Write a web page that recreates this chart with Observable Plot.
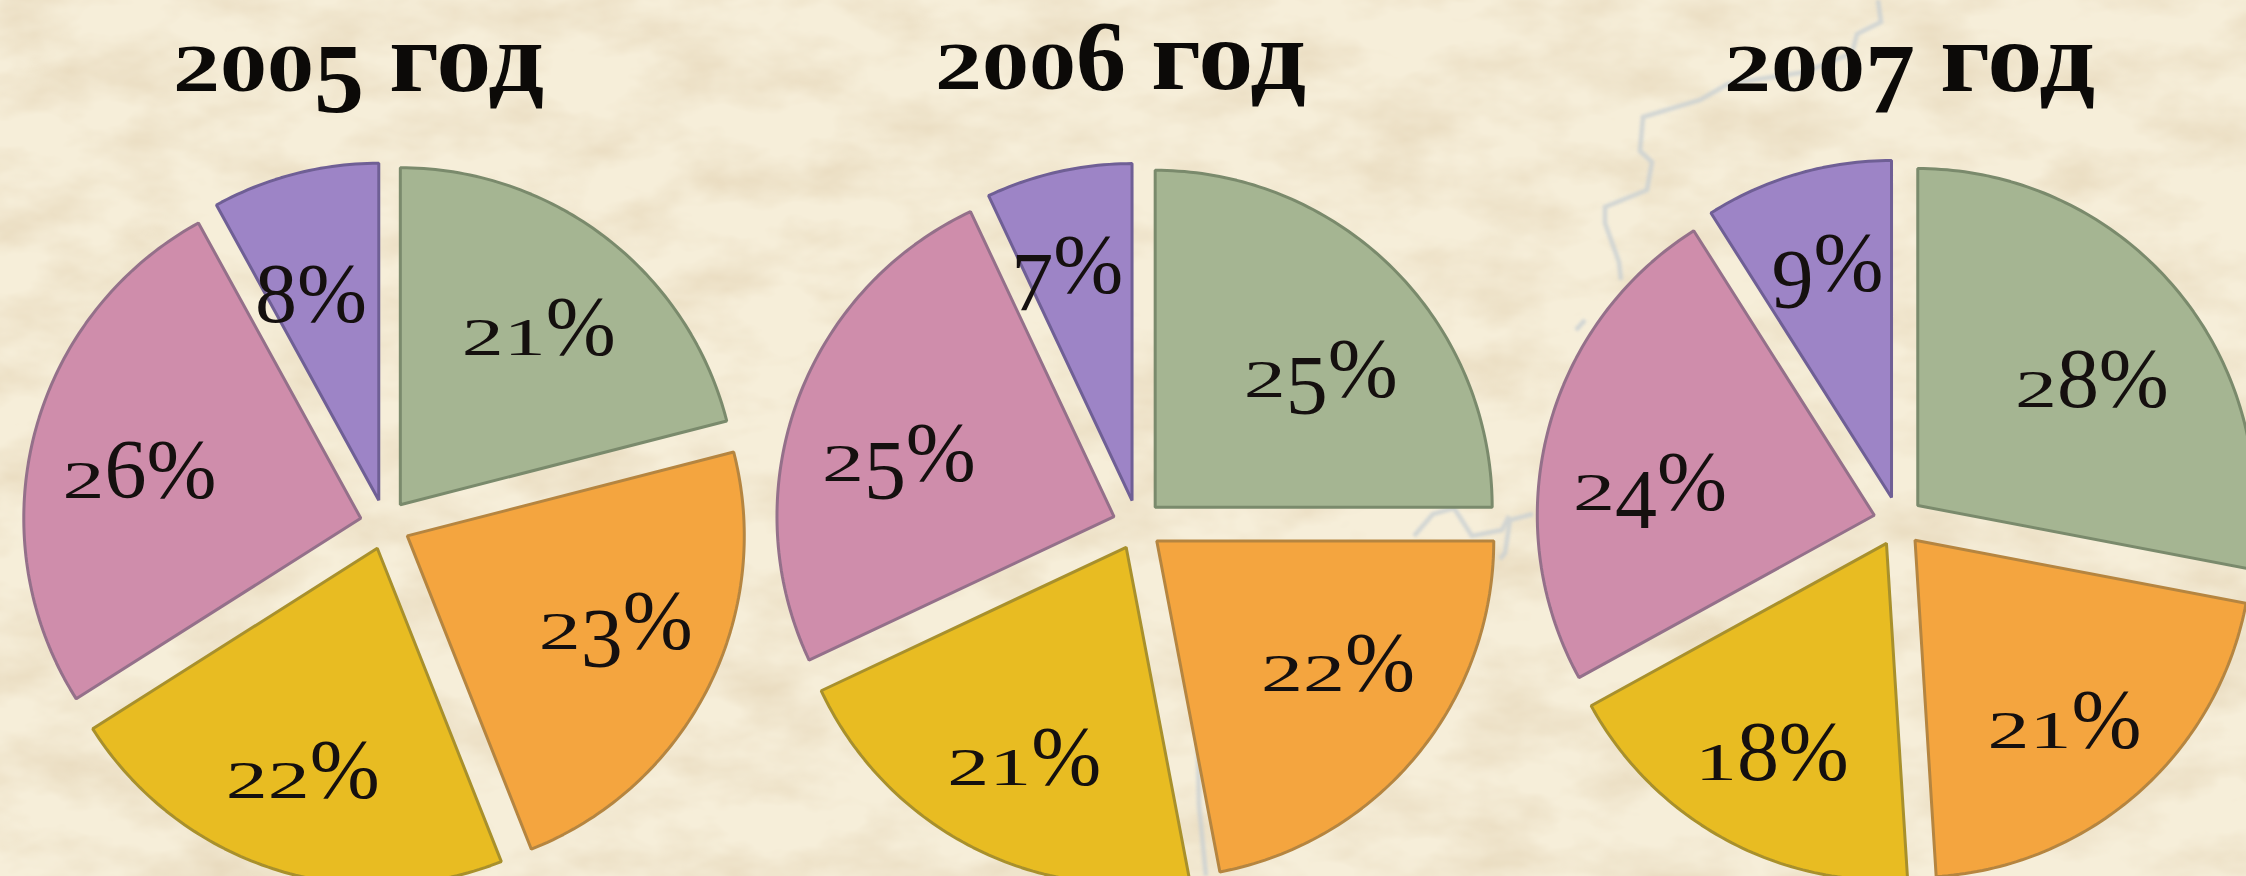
<!DOCTYPE html>
<html lang="ru">
<head>
<meta charset="utf-8">
<script src="https://cdn.jsdelivr.net/npm/d3@7"></script>
<script src="https://cdn.jsdelivr.net/npm/@observablehq/plot@0.6"></script>
<style>
html,body{margin:0;padding:0;width:2246px;height:876px;overflow:hidden;background:#f3e9d0;}
#paper{position:absolute;left:0;top:0;}
#chart{position:absolute;left:0;top:0;}
#chart svg{background:transparent;display:block;filter:blur(0.7px);}
</style>
</head>
<body>
<svg id="paper" width="2246" height="876" xmlns="http://www.w3.org/2000/svg">
  <defs>
    <filter id="mottle" x="0" y="0" width="100%" height="100%">
      <feTurbulence type="fractalNoise" baseFrequency="0.011 0.02" numOctaves="4" seed="11"/>
      <feColorMatrix type="matrix" values="0 0 0 0 0.80  0 0 0 0 0.69  0 0 0 0 0.50  1.6 0 0 0 -0.60"/>
    </filter>
    <filter id="soft"><feGaussianBlur stdDeviation="1.6"/></filter>
  </defs>
  <rect width="2246" height="876" fill="#f6eed9"/>
  <rect width="2246" height="876" filter="url(#mottle)"/>
  <g fill="none" stroke="#c6ced2" stroke-width="4.5" filter="url(#soft)" opacity=".75">
    <path d="M1878 0L1881 22L1857 34L1852 53L1805 72L1728 84L1700 100L1643 117L1640 151L1652 162L1647 190L1605 207L1605 223L1619 262L1621 280"/>
    <path d="M1585 320L1576 330M1533 514L1510 520L1505 553L1500 559"/>
    <path d="M1414 536L1433 514L1454 508L1472 536L1502 530L1509 516"/>
    <path d="M1198 748L1199 805L1206 876"/>
  </g>
</svg>
<div id="chart"></div>
<script>
const years = ["2005 год", "2006 год", "2007 год"];
const sliceNames = ["green", "orange", "yellow", "pink", "purple"];
const shares2005 = [21, 23, 22, 26, 8];
const shares2006 = [25, 22, 21, 25, 7];
const shares2007 = [28, 21, 18, 24, 9];
const fills = ["#a5b592", "#f4a53f", "#e8bc22", "#cf8dab", "#9d84c6"];
const strokes = ["#7a8a6c", "#b58540", "#a8902c", "#94708a", "#6f5f95"];
const labelReach = [0.71, 0.745, 0.78, 0.74, 0.765];
const nudgeX = [[7, 7, -1, -4, -10], [14, 7, 6, -4, -14], [9, 0, 0, -7, 1]];
const nudgeY = [[-7, -16, -3, 9, 20], [14, -21, -1, 14, -7], [11, 11, 1, 24, -10]];

const centerX = [384.5, 1137, 1898];
const centerY = [524, 524.5, 521];
const titleX = [358, 1120, 1909];
const titleY = [58, 56, 58];
const radius = 337;
const explode = 25;

const allShares = [shares2005, shares2006, shares2007];
const polar = (p, a, r) => ({x: centerX[p] + r * Math.sin(a), y: centerY[p] - r * Math.cos(a)});

const outlines = [];
const labels = [];
allShares.forEach((shares, p) => {
  let cum = 0;
  shares.forEach((v, s) => {
    const a0 = cum / 100 * 2 * Math.PI;
    const a1 = (cum + v) / 100 * 2 * Math.PI;
    const mid = (a0 + a1) / 2;
    const ox = explode * Math.sin(mid), oy = -explode * Math.cos(mid);
    const key = years[p] + "/" + sliceNames[s];
    const apex = polar(p, 0, 0);
    outlines.push({key, s, x: apex.x + ox, y: apex.y + oy});
    const n = Math.ceil(v * 3.6);
    for (let i = 0; i <= n; ++i) {
      const q = polar(p, a0 + (a1 - a0) * i / n, radius);
      outlines.push({key, s, x: q.x + ox, y: q.y + oy});
    }
    const t = polar(p, mid, radius * labelReach[s]);
    labels.push({x: t.x + nudgeX[p][s], y: t.y + nudgeY[p][s], text: v + "%"});
    cum += v;
  });
});
const titles = years.map((text, i) => ({text, x: titleX[i], y: titleY[i]}));

const chart = Plot.plot({
  width: 2246, height: 876,
  margin: 0,
  x: {domain: [0, 2246], range: [0, 2246], axis: null},
  y: {domain: [0, 876], range: [0, 876], axis: null},
  marks: [
    ...sliceNames.map((name, s) => Plot.line(outlines.filter(d => d.s === s), {
      x: "x", y: "y", z: "key", curve: "linear-closed",
      fill: fills[s], stroke: strokes[s], strokeWidth: 3, strokeLinejoin: "miter"
    })),
    Plot.text(labels, {x: "x", y: "y", text: "text", fontSize: 84,
      fontFamily: "Liberation Serif", fill: "#15100f", className: "oldstyle label"}),
    Plot.text(titles, {x: "x", y: "y", text: "text", fontSize: 100, fontWeight: 700,
      fontFamily: "Liberation Serif", fill: "#0c0a08", className: "oldstyle head"})
  ]
});
document.getElementById("chart").append(chart);

// Imitate old-style numerals: low digits are squat and wide, long digits hang below the line.
function oldstyle(selection, lowScale, lowWidth, restWidth) {
  selection.each(function () {
    const el = d3.select(this);
    const str = el.text();
    el.text(null);
    const fs = parseFloat(getComputedStyle(this).fontSize);
    let shift = 0;
    for (const part of str.match(/\d|\s|[^\d\s]+/g)) {
      const low = "012".includes(part), hang = "34579".includes(part);
      const target = hang ? 0.21 * fs : 0;
      const ts = el.append("tspan").text(part).attr("dy", target - shift);
      if (low) ts.style("font-size", lowScale + "em").attr("textLength", lowWidth).attr("lengthAdjust", "spacingAndGlyphs");
      if (part === "год" && restWidth) ts.attr("textLength", restWidth).attr("lengthAdjust", "spacingAndGlyphs");
      shift = target;
    }
  });
}
oldstyle(d3.select(chart).selectAll(".label text"), 0.62, 42);
oldstyle(d3.select(chart).selectAll(".head text"), 0.68, 47, 155);
</script>
</body>
</html>
